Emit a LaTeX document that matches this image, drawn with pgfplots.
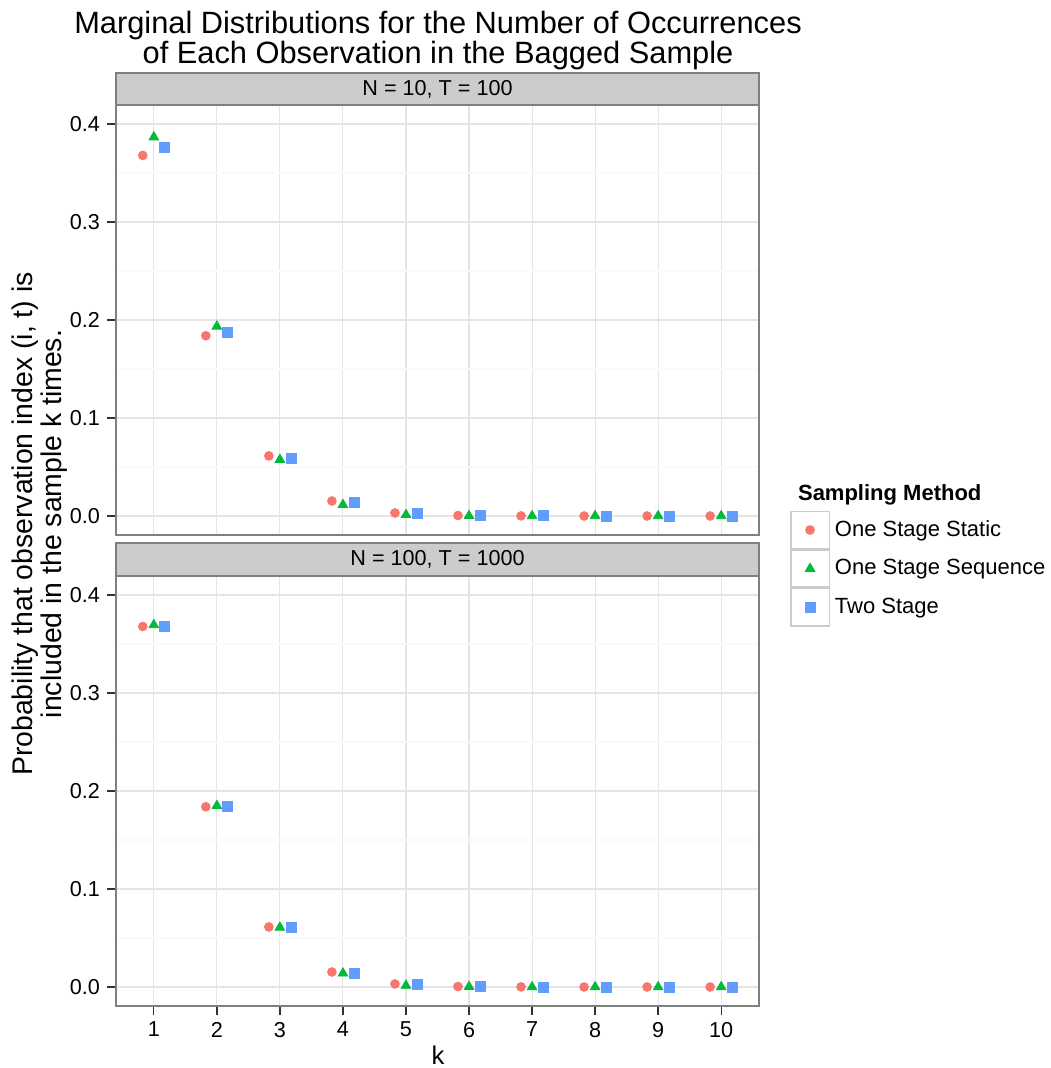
\documentclass[border=0pt]{standalone}
\usepackage{fontspec}
\setmainfont{Liberation Sans}
\usepackage{pgfplots}
\pgfplotsset{compat=1.18}
\usepackage{pgfplotstable}

\definecolor{cred}{HTML}{F8766D}
\definecolor{cgreen}{HTML}{00BA38}
\definecolor{cblue}{HTML}{619CFF}
\definecolor{gridmaj}{HTML}{E5E5E5}
\definecolor{gridmin}{HTML}{FAFAFA}
\definecolor{border}{HTML}{7F7F7F}
\definecolor{stripc}{HTML}{CCCCCC}
\definecolor{tickc}{HTML}{333333}
\definecolor{legbox}{HTML}{CCCCCC}

% k, One Stage Static, One Stage Sequence, Two Stage  (N = 10, T = 100)
\pgfplotstableread{
k  s1      s2      s3
1  0.3679  0.3866  0.3765
2  0.1839  0.1935  0.1878
3  0.0613  0.0575  0.0592
4  0.0153  0.0115  0.0136
5  0.0031  0.0012  0.0024
6  0.0005  0.0002  0.0003
7  0.0001  0.0000  0.0001
8  0.0000  0.0000  0.0000
9  0.0000  0.0000  0.0000
10 0.0000  0.0000  0.0000
}\toptable

% N = 100, T = 1000
\pgfplotstableread{
k  s1      s2      s3
1  0.3679  0.3695  0.3680
2  0.1839  0.1850  0.1840
3  0.0613  0.0608  0.0605
4  0.0153  0.0140  0.0143
5  0.0031  0.0015  0.0022
6  0.0005  0.0003  0.0003
7  0.0001  0.0000  0.0001
8  0.0000  0.0000  0.0000
9  0.0000  0.0000  0.0000
10 0.0000  0.0000  0.0000
}\bottable

\pgfplotsset{
  panel/.style={
    scale only axis, width=321.5pt, height=215pt,
    xmin=0.4, xmax=10.6, ymin=-0.0194, ymax=0.4194,
    xtick={1,2,3,4,5,6,7,8,9,10},
    ytick={0,0.1,0.2,0.3,0.4},
    minor ytick={0.05,0.15,0.25,0.35},
    xmajorgrids, ymajorgrids, yminorgrids,
    major grid style={color=gridmaj, line width=0.55pt},
    minor grid style={color=gridmin, line width=0.55pt},
    axis line style={draw=border, line width=0.75pt},
    tick pos=left, tick align=outside,
    major tick length=4.5pt, minor tick length=0pt,
    tick style={color=tickc, line width=0.65pt},
    /pgf/number format/assume math mode=true,
    ticklabel style={font=\fontsize{10.8}{12}\selectfont, color=black},
    yticklabel style={/pgf/number format/.cd, fixed, fixed zerofill, precision=1},
    clip=false,
  },
  sA/.style={only marks, mark=*, mark size=2.2pt, color=cred},
  sB/.style={only marks, mark=triangle*, mark size=2.75pt, color=cgreen},
  sC/.style={only marks, mark=square*, mark size=2.5pt, color=cblue},
}

\begin{document}
\begin{tikzpicture}
\path[use as bounding box] (0pt,0pt) rectangle (525pt,-534pt);

% top panel
\begin{axis}[panel,
  at={(58pt,-52.5pt)}, anchor=north west,
  xticklabels={}, xtick style={draw=none},
  legend cell align=left,
  legend style={at={(axis description cs:1.0482,0.0565)}, anchor=north west,
    draw=none, fill=none, inner sep=0pt, outer sep=0pt,
    row sep=0pt, column sep=2.4pt,
    font=\fontsize{11}{13}\selectfont,
    nodes={inner sep=0pt}},
  legend image code/.code={
    \draw[draw=legbox, fill=white, line width=0.75pt, solid] (0pt,-9.275pt) rectangle (19.3pt,9.275pt);
    \draw[mark repeat=2, mark phase=2, #1] plot coordinates {(0pt,0pt) (9.65pt,0pt) (19.3pt,0pt)};
  },
]
\addplot[sA] table[x expr=\thisrow{k}-0.175, y=s1] {\toptable};
\addlegendentry{One Stage Static}
\addplot[sB] table[x expr=\thisrow{k}, y=s2] {\toptable};
\addlegendentry{One Stage Sequence}
\addplot[sC] table[x expr=\thisrow{k}+0.175, y=s3] {\toptable};
\addlegendentry{Two Stage}
\draw[fill=stripc, draw=border, line width=0.75pt] (rel axis cs:0,1) rectangle ([yshift=16pt]rel axis cs:1,1);
\node[font=\fontsize{10.8}{12}\selectfont] at ([yshift=8pt]rel axis cs:0.5,1) {N = 10, T = 100};
\end{axis}

% bottom panel
\begin{axis}[panel,
  at={(58pt,-288pt)}, anchor=north west,
]
\addplot[sA] table[x expr=\thisrow{k}-0.175, y=s1] {\bottable};
\addplot[sB] table[x expr=\thisrow{k}, y=s2] {\bottable};
\addplot[sC] table[x expr=\thisrow{k}+0.175, y=s3] {\bottable};
\draw[fill=stripc, draw=border, line width=0.75pt] (rel axis cs:0,1) rectangle ([yshift=16.5pt]rel axis cs:1,1);
\node[font=\fontsize{10.8}{12}\selectfont] at ([yshift=8.25pt]rel axis cs:0.5,1) {N = 100, T = 1000};
\end{axis}

% titles and labels
\node[anchor=north, inner sep=0pt, align=center, font=\fontsize{15.4}{13.6}\selectfont] at (219pt,-5.2pt)
  {Marginal Distributions for the Number of Occurrences\\of Each Observation in the Bagged Sample};
\node[anchor=base, font=\fontsize{12.8}{15}\selectfont] at (219pt,-532pt) {k};
\node[rotate=90, font=\fontsize{14.2}{16}\selectfont] at (12.5pt,-262pt) {Probability that observation index (i, t) is};
\node[rotate=90, font=\fontsize{14.2}{16}\selectfont] at (27pt,-262pt) {included in the sample k times.};
\node[anchor=base west, font=\bfseries\fontsize{11}{13}\selectfont] at (395.5pt,-250pt) {Sampling Method};
\end{tikzpicture}
\end{document}
